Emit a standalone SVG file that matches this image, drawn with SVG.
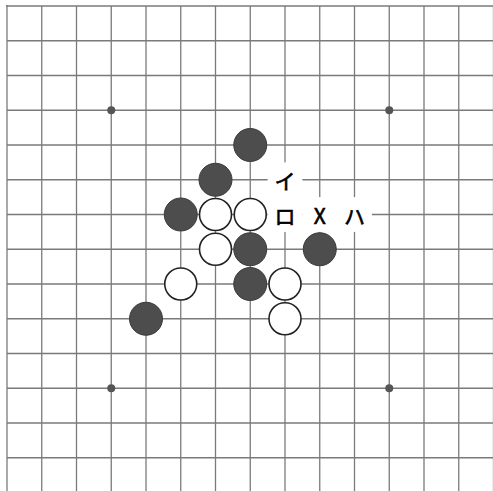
<svg xmlns="http://www.w3.org/2000/svg" width="493" height="491" viewBox="0 0 493 491">
<style>
.grid line{stroke:#7a7a7a;stroke-width:1.3}
.border{stroke:#6a6a6a;stroke-width:2.2}
.star{fill:#555}
.b{fill:#4d4d4d;stroke:#3a3a3a;stroke-width:1}
.w{fill:#fff;stroke:#222;stroke-width:1.6}
.lblbg{fill:#fff}
.lbl{font-family:"Noto Sans CJK JP","Noto Sans",sans-serif;font-size:21px;fill:#000;stroke:#000;stroke-width:0.6;text-anchor:middle;dominant-baseline:central}
</style>
<rect width="493" height="491" fill="#fff"/>
<g id="grid" class="grid">
<line x1="41.75" y1="6" x2="41.75" y2="500"/>
<line x1="76.5" y1="6" x2="76.5" y2="500"/>
<line x1="111.25" y1="6" x2="111.25" y2="500"/>
<line x1="146" y1="6" x2="146" y2="500"/>
<line x1="180.75" y1="6" x2="180.75" y2="500"/>
<line x1="215.5" y1="6" x2="215.5" y2="500"/>
<line x1="250.25" y1="6" x2="250.25" y2="500"/>
<line x1="285" y1="6" x2="285" y2="500"/>
<line x1="319.75" y1="6" x2="319.75" y2="500"/>
<line x1="354.5" y1="6" x2="354.5" y2="500"/>
<line x1="389.25" y1="6" x2="389.25" y2="500"/>
<line x1="424" y1="6" x2="424" y2="500"/>
<line x1="458.75" y1="6" x2="458.75" y2="500"/>
<line x1="493.5" y1="6" x2="493.5" y2="500"/>
<line x1="7" y1="40.75" x2="500" y2="40.75"/>
<line x1="7" y1="75.5" x2="500" y2="75.5"/>
<line x1="7" y1="110.25" x2="500" y2="110.25"/>
<line x1="7" y1="145" x2="500" y2="145"/>
<line x1="7" y1="179.75" x2="500" y2="179.75"/>
<line x1="7" y1="214.5" x2="500" y2="214.5"/>
<line x1="7" y1="249.25" x2="500" y2="249.25"/>
<line x1="7" y1="284" x2="500" y2="284"/>
<line x1="7" y1="318.75" x2="500" y2="318.75"/>
<line x1="7" y1="353.5" x2="500" y2="353.5"/>
<line x1="7" y1="388.25" x2="500" y2="388.25"/>
<line x1="7" y1="423" x2="500" y2="423"/>
<line x1="7" y1="457.75" x2="500" y2="457.75"/>
<line class="border" x1="6" y1="6" x2="500" y2="6"/>
<line class="border" x1="7" y1="5" x2="7" y2="500"/>
</g>
<g id="stars">
<circle class="star" cx="111.25" cy="110.25" r="4"/>
<circle class="star" cx="389.25" cy="110.25" r="4"/>
<circle class="star" cx="111.25" cy="388.25" r="4"/>
<circle class="star" cx="389.25" cy="388.25" r="4"/>
</g>
<g id="stones">
<circle id="b1" class="b" cx="250.25" cy="145" r="16.5"/>
<circle id="b2" class="b" cx="215.5" cy="179.75" r="16.5"/>
<circle id="b3" class="b" cx="180.75" cy="214.5" r="16.5"/>
<circle id="w1" class="w" cx="215.5" cy="214.5" r="16"/>
<circle id="w2" class="w" cx="250.25" cy="214.5" r="16"/>
<circle id="w3" class="w" cx="215.5" cy="249.25" r="16"/>
<circle id="b4" class="b" cx="250.25" cy="249.25" r="16.5"/>
<circle id="b5" class="b" cx="319.75" cy="249.25" r="16.5"/>
<circle id="w4" class="w" cx="180.75" cy="284" r="16"/>
<circle id="b6" class="b" cx="250.25" cy="284" r="16.5"/>
<circle id="w5" class="w" cx="285" cy="284" r="16"/>
<circle id="b7" class="b" cx="146" cy="318.75" r="16.5"/>
<circle id="w6" class="w" cx="285" cy="318.75" r="16"/>
</g>
<g id="labels">
<g id="lbl-i"><rect class="lblbg" x="267.6" y="162.4" width="34.8" height="34.8"/><text class="lbl" x="285" y="179.75">イ</text></g>
<g id="lbl-ro"><rect class="lblbg" x="267.6" y="197.1" width="34.8" height="34.8"/><text class="lbl" x="285" y="214.5">ロ</text></g>
<g id="lbl-x"><rect class="lblbg" x="302.35" y="197.1" width="34.8" height="34.8"/><text class="lbl" x="319.75" y="214.5">X</text></g>
<g id="lbl-ha"><rect class="lblbg" x="337.1" y="197.1" width="34.8" height="34.8"/><text class="lbl" x="354.5" y="214.5">ハ</text></g>
</g>
</svg>
